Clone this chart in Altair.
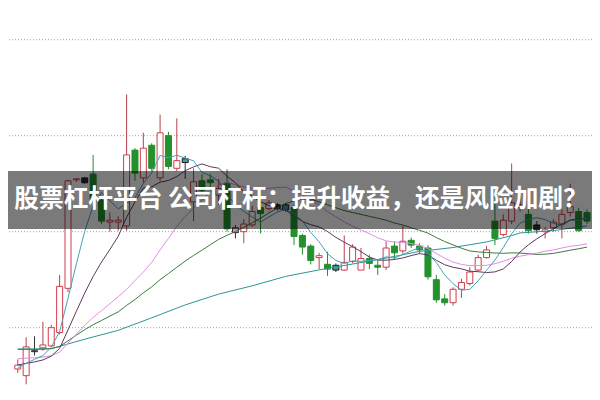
import altair as alt
import pandas as pd

# ---- candle data (price units) ----
open_ = [5.7, 5.0, 7.6, 7.9, 8.1, 9.5, 14.1, 25.4, 25.6, 26.0,
         23.3, 21.0, 21.0, 20.6, 28.5, 25.6, 29.0, 25.6, 30.0, 26.6,
         27.6, 23.1, 25.3, 25.4, 23.8, 25.0, 20.4, 20.0, 20.7, 22.5,
         22.4, 22.8, 22.8, 22.5, 19.6, 18.5, 17.3, 16.6, 16.5, 16.0,
         16.9, 16.0, 17.2, 16.5, 16.3, 18.5, 18.0, 19.1, 18.5, 18.3,
         15.0, 13.0, 12.6, 14.0, 14.6, 16.0, 17.3, 21.1, 19.7, 21.1,
         22.5, 21.8, 20.7, 20.0, 20.4, 20.8, 22.0, 22.1, 22.0]
close = [6.1, 8.0, 7.5, 8.2, 10.0, 14.3, 25.3, 25.5, 25.1, 23.3,
         21.1, 21.2, 21.2, 28.0, 26.1, 28.7, 26.6, 30.3, 26.8, 27.4,
         27.2, 25.2, 24.3, 25.1, 24.5, 20.3, 19.9, 20.8, 22.1, 21.9,
         23.0, 22.4, 22.3, 19.5, 18.4, 17.0, 17.5, 16.1, 16.0, 16.8,
         18.4, 17.2, 16.7, 16.3, 18.3, 17.8, 19.0, 18.6, 18.1, 15.3,
         12.9, 12.6, 14.0, 14.7, 15.8, 17.3, 18.1, 19.3, 21.2, 23.0,
         22.8, 20.1, 20.2, 20.2, 21.0, 21.8, 22.6, 20.1, 21.1]
high = [6.7, 9.0, 9.1, 10.6, 10.3, 15.5, 25.4, 25.6, 25.7, 28.0,
        23.5, 22.0, 21.6, 34.3, 28.7, 30.3, 29.2, 32.2, 30.4, 31.8,
        27.9, 26.6, 26.0, 26.0, 25.5, 26.5, 20.7, 21.3, 22.7, 23.3,
        23.3, 23.0, 23.0, 22.8, 19.8, 18.7, 17.8, 17.9, 16.7, 19.6,
        18.7, 18.3, 17.6, 17.0, 19.0, 19.0, 20.6, 19.4, 18.8, 18.6,
        15.5, 13.5, 14.2, 15.1, 16.3, 17.6, 18.5, 23.3, 21.8, 27.1,
        23.8, 22.8, 21.1, 20.5, 21.3, 22.3, 25.0, 22.5, 22.3]
low = [5.3, 4.1, 7.1, 7.6, 8.0, 9.3, 13.7, 25.2, 25.0, 23.1,
       20.8, 20.0, 20.1, 20.1, 25.3, 25.1, 26.3, 25.3, 26.5, 26.3,
       25.5, 21.1, 24.0, 24.3, 22.8, 20.0, 19.3, 18.8, 20.5, 19.8,
       22.2, 22.2, 22.1, 18.6, 17.6, 16.6, 16.1, 15.4, 15.8, 15.9,
       16.7, 16.0, 16.1, 15.5, 16.0, 17.1, 17.7, 18.3, 17.7, 15.0,
       12.6, 12.3, 12.3, 13.1, 14.4, 15.9, 17.2, 18.6, 19.5, 20.8,
       22.1, 19.8, 19.8, 19.3, 20.0, 19.3, 21.6, 20.0, 20.8]
# r = up (hollow red), g = down (green), d/t/p = small doji boxes
kind = ("rrprrrrrdg" "grrrgrgrgr" "trggrgprrg" "rdtgggrgtr"
        "rrggrgrggg" "ggrrrrrgrr" "rgdrrrrgg")

# ---- moving averages ----
ma5 = [5.8, 6.3, 6.7, 7.1, 7.96, 9.6, 13.06, 16.66, 20.04, 22.7,
       24.06, 23.24, 22.38, 22.96, 23.52, 25.04, 26.12, 27.94, 27.7, 27.96,
       27.66, 27.38, 26.18, 25.84, 25.26, 23.88, 22.82, 22.12, 21.52, 21.0,
       21.54, 22.04, 22.34, 21.82, 21.12, 19.92, 18.94, 17.7, 17.0, 16.68,
       16.96, 16.9, 17.02, 17.08, 17.38, 17.26, 17.62, 18.0, 18.36, 17.76,
       16.78, 15.5, 14.58, 13.9, 14.0, 14.88, 15.98, 17.04, 18.34, 19.78,
       20.88, 21.28, 21.46, 21.26, 20.86, 20.66, 21.16, 21.22, 21.4]
ma10 = [6.1, 6.29, 6.43, 6.64, 7.03, 7.85, 9.77, 11.71, 13.61, 15.33,
        16.83, 18.15, 19.52, 21.5, 23.11, 24.55, 24.68, 25.16, 25.33, 25.74,
        26.35, 26.75, 27.06, 26.77, 26.61, 25.77, 25.1, 24.15, 23.68, 23.13,
        22.71, 22.43, 22.23, 21.67, 21.06, 20.73, 20.49, 20.02, 19.41, 18.9,
        18.44, 17.92, 17.36, 17.04, 17.03, 17.11, 17.26, 17.51, 17.72, 17.57,
        17.02, 16.56, 16.29, 16.13, 15.88, 15.83, 15.74, 15.81, 16.12, 16.89,
        17.88, 18.63, 19.25, 19.8, 20.32, 20.77, 21.22, 21.34, 21.33]
ma20 = [6.76, 6.83, 6.86, 6.93, 7.09, 7.46, 8.39, 9.33, 10.24, 11.07,
        11.78, 12.5, 13.22, 14.0, 14.9, 15.8, 16.8, 18.1, 19.3, 20.54,
        21.59, 22.45, 23.29, 24.14, 24.86, 25.16, 24.89, 24.66, 24.51, 24.44,
        24.53, 24.59, 24.65, 24.22, 23.84, 23.25, 22.8, 22.09, 21.55, 21.02,
        20.58, 20.18, 19.8, 19.36, 19.05, 18.92, 18.88, 18.77, 18.57, 18.24,
        17.73, 17.24, 16.83, 16.59, 16.46, 16.47, 16.5, 16.66, 16.92, 17.23,
        17.45, 17.6, 17.77, 17.97, 18.1, 18.3, 18.48, 18.58, 18.73]
ma30 = [7.74, 7.75, 7.74, 7.75, 7.83, 8.04, 8.63, 9.22, 9.79, 10.31,
        10.75, 11.2, 11.65, 12.32, 12.93, 13.63, 14.25, 15.0, 15.64, 16.29,
        16.94, 17.52, 18.07, 18.64, 19.2, 19.62, 20.02, 20.45, 20.93, 21.4,
        21.96, 22.44, 22.94, 23.2, 23.4, 23.4, 23.1, 22.8, 22.5, 22.2,
        22.0, 21.8, 21.6, 21.4, 21.2, 20.9, 20.7, 20.4, 20.15, 19.85,
        19.39, 18.97, 18.63, 18.28, 17.99, 17.89, 17.83, 17.78, 17.75, 17.79,
        17.78, 17.7, 17.63, 17.66, 17.74, 17.9, 18.07, 18.22, 18.39]
ma60_idx = [0, 4, 8, 12, 16, 20, 24, 28, 32, 36, 40, 44, 48, 52, 56, 59, 60, 64, 68]
ma60 = [7.77, 7.81, 8.8, 9.72, 11.03, 12.37, 13.5, 14.36, 15.34, 16.02,
        16.63, 17.25, 17.95, 18.35, 18.93, 19.59, 19.87, 20.11, 20.6]

grid_values = [10, 20, 30, 40]
TITLE = "股票杠杆平台 公司杠杆：提升收益，还是风险加剧？"

# ---- styling ----
W, H = 584, 384
FILL = {"r": "#ffffff", "g": "#23912c", "d": "#2d2d3a", "t": "#3a9fa6", "p": "#d68ad6"}
STROKE = {"r": "#d23c4a", "g": "#23912c", "d": "#1a1a1a", "t": "#1a1a1a", "p": "#2a2a2a"}
WICK = {"r": "#b8404c", "g": "#23912c", "d": "#333333", "t": "#333333", "p": "#333333"}

n = len(open_)
candles = pd.DataFrame({
    "i": list(range(n)), "open": open_, "close": close, "high": high, "low": low,
    "kind": list(kind),
})
candles["fillc"] = candles["kind"].map(FILL)
candles["strokec"] = candles["kind"].map(STROKE)
candles["wickc"] = candles["kind"].map(WICK)

xs = alt.Scale(domain=[-0.571, 68], nice=False, zero=False)
ys = alt.Scale(domain=[3.3, 43.3], nice=False, zero=False)
X = alt.X("i:Q", scale=xs, axis=None)

grid = alt.Chart(pd.DataFrame({"v": grid_values})).mark_rule(
    color="#a0a0a0", strokeDash=[1, 2], strokeWidth=1
).encode(y=alt.Y("v:Q", scale=ys, axis=None))

base = alt.Chart(candles)
wicks = base.mark_rule(strokeWidth=1, clip=True).encode(
    x=X, y=alt.Y("low:Q", scale=ys, axis=None), y2="high:Q",
    color=alt.Color("wickc:N", scale=None),
)
bodies = base.mark_bar(size=6, strokeWidth=1, clip=True).encode(
    x=X, y=alt.Y("open:Q", scale=ys, axis=None), y2="close:Q",
    fill=alt.Fill("fillc:N", scale=None),
    stroke=alt.Stroke("strokec:N", scale=None),
)

def ma_line(idx, vals, col):
    df = pd.DataFrame({"i": idx, "v": vals})
    return alt.Chart(df).mark_line(color=col, strokeWidth=1, clip=True).encode(
        x=X, y=alt.Y("v:Q", scale=ys, axis=None)
    )

idx = list(range(n))
lines = [
    ma_line(ma60_idx, ma60, "#2e9595"),
    ma_line(idx, ma30, "#3b7d3b"),
    ma_line(idx, ma20, "#e28ee6"),
    ma_line(idx, ma10, "#5b3a5e"),
    ma_line(idx, ma5, "#46a3b5"),
]

one = pd.DataFrame({"a": [0]})
banner = alt.Chart(one).mark_rect(color="#000000", opacity=0.52).encode(
    x=alt.value(0), x2=alt.value(W), y=alt.value(163), y2=alt.value(221)
)
title = alt.Chart(one).mark_text(
    text=TITLE, font="Noto Sans CJK SC", fontWeight="bold", fontSize=24.7,
    color="#ffffff", align="center", baseline="middle"
).encode(x=alt.value(293), y=alt.value(192))

chart = alt.layer(grid, wicks, bodies, *lines, banner, title).properties(
    width=W, height=H, padding=0, autosize=alt.AutoSizeParams(type="none"),
    background="#ffffff",
).configure_view(stroke=None)

chart.save("out.html", embed_options={"renderer": "svg", "actions": False})
